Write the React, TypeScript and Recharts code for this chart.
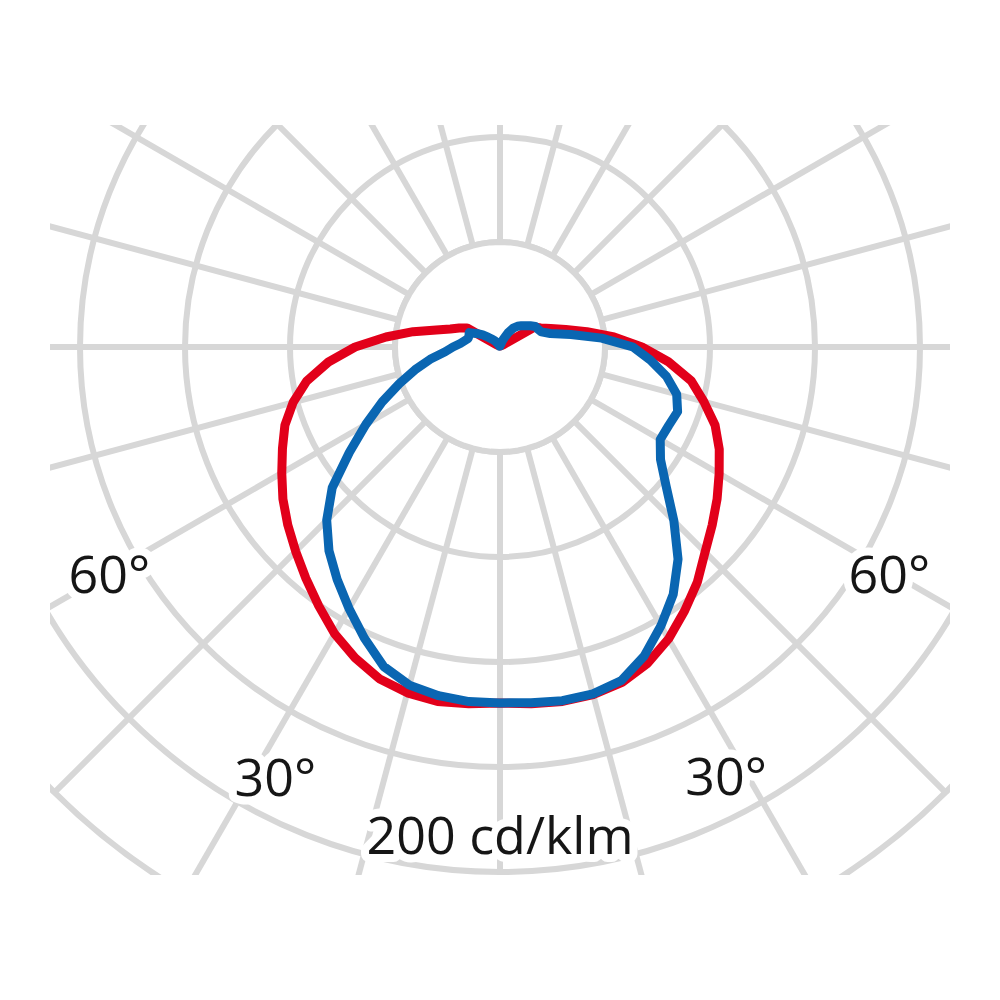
import React from 'react';
import { RadarChart, Radar, PolarGrid, PolarAngleAxis, PolarRadiusAxis } from 'recharts';

// gamma angle (deg), 0 = straight down, 0..180 on the left half, 180..360 on the right half
const GAMMA = [
  0, 5, 10, 15, 20, 25, 30, 35, 40, 45, 50, 55, 60, 65, 70, 75, 80, 85, 90,
  95, 100, 105, 110, 115, 120, 125, 130, 135, 140, 145, 150, 155, 160, 165, 170, 175, 180,
  185, 190, 195, 200, 205, 210, 215, 220, 225, 230, 235, 240, 245, 250, 255, 260, 265, 270,
  275, 280, 285, 290, 295, 300, 305, 310, 315, 320, 325, 330, 335, 340, 345, 350, 355,
];

// red curve, cd/klm
const RED = [
  169.5, 170.5, 171.4, 170.5, 168.1, 163.3, 157.6, 150.5, 143.8, 137.6, 131.9, 126.2, 120, 114.3, 109, 102, 93.5, 82, 69,
  54.5, 42, 31.4, 25.2, 21.4, 18.1, 1.9, 1, 1, 1, 1, 1, 1, 1, 1, 1, 1, 0.5,
  1, 1, 1, 1, 1, 1, 1, 1, 1, 1, 1.9, 19, 21.4, 25.7, 32.4, 42, 54.5, 67.6,
  80.5, 92.4, 100.5, 109, 115.2, 120.5, 126.2, 131.9, 138.1, 146.2, 153.3, 160.5, 166.2, 170, 171.4, 171.4, 170.5,
];

// blue curve, cd/klm
const BLUE = [
  169.5, 169.5, 168.6, 166.7, 161.9, 152.9, 143.8, 135.2, 126.7, 116.7, 104.3, 87.6, 73.8, 61.9, 51, 41.9, 33.8, 26.2, 22.4,
  19, 17.1, 15.7, 15.7, 16.2, 12.9, 10, 7.1, 5.2, 3.8, 2.4, 1.4, 0.5, 0.5, 0.5, 0.5, 0.5, 0.5,
  1, 1, 1, 2.9, 4.8, 8.1, 11, 12.9, 14.3, 15.7, 17.6, 19.5, 20, 21, 24.8, 34.3, 48.6, 63.3,
  71.9, 80.5, 87.1, 90, 88.6, 88.1, 93.3, 103.3, 117.1, 131.9, 143.8, 153.3, 162.4, 169, 171, 171, 170,
];

const RING_VALUES = [50, 100, 150, 200, 250, 300];
const GRID_ANGLES = [0, 15, 30, 45, 60, 75, 90, 105, 120, 135, 150, 165, 180, 195, 210, 225, 240, 255, 270, 285, 300, 315, 330, 345];
const HUB_VALUE = 50;
const MAX_VALUE = 300;

const LABELS = [
  { gamma: 0, text: '200 cd/klm', at: 0, r: 488 },
  { gamma: 30, text: '30°', at: 27.6, r: 485 },
  { gamma: 60, text: '60°', at: 59.8, r: 452 },
  { gamma: 300, text: '60°', at: 300.3, r: 451 },
  { gamma: 330, text: '30°', at: 332.2, r: 485 },
];

const W = 900;
const H = 750;
const CX = 450;
const CY = 222;
const OUTER = 630;
const FONT = 52;
const GRID = '#d7d7d7';

const data = GAMMA.map((g, i) => ({ gamma: g, red: RED[i], blue: BLUE[i], hub: HUB_VALUE }));

const AngleTick = (props: any) => {
  const g = Number(props?.payload?.value);
  const lab = LABELS.find((l) => l.gamma === g);
  if (!lab) return <g />;
  const a = (lab.at * Math.PI) / 180;
  const x = CX - lab.r * Math.sin(a);
  const y = CY + lab.r * Math.cos(a);
  return (
    <text
      x={x}
      y={y + FONT * 0.36}
      textAnchor="middle"
      fontFamily="'Open Sans', sans-serif"
      fontSize={FONT}
      fill="#161616"
      stroke="#ffffff"
      strokeWidth={16}
      strokeLinejoin="round"
      paintOrder="stroke"
    >
      {lab.text}
    </text>
  );
};

export default function App() {
  return (
    <div style={{ position: 'absolute', left: 0, top: 0, width: 1000, height: 1000, background: '#fff' }}>
      <div style={{ position: 'absolute', left: 50, top: 125, width: W, height: H, overflow: 'hidden' }}>
        <RadarChart
          width={W}
          height={H}
          data={data}
          cx={CX}
          cy={CY}
          innerRadius={0}
          outerRadius={OUTER}
          startAngle={-90}
          endAngle={-450}
          margin={{ top: 0, right: 0, bottom: 0, left: 0 }}
        >
          <PolarGrid
            gridType="circle"
            stroke={GRID}
            strokeWidth={6}
            polarAngles={GRID_ANGLES}
            polarRadius={RING_VALUES.map((v) => (v / MAX_VALUE) * OUTER)}
          />
          <PolarAngleAxis dataKey="gamma" type="category" tick={AngleTick} tickLine={false} axisLine={false} />
          <PolarRadiusAxis domain={[0, MAX_VALUE]} type="number" tick={false} axisLine={false} />
          <Radar dataKey="hub" stroke={GRID} strokeWidth={6} fill="#ffffff" fillOpacity={1} isAnimationActive={false} />
          <Radar dataKey="red" stroke="#e2001a" strokeWidth={9} strokeLinejoin="round" fill="none" fillOpacity={0} isAnimationActive={false} />
          <Radar dataKey="blue" stroke="#0a66b2" strokeWidth={9} strokeLinejoin="round" fill="none" fillOpacity={0} isAnimationActive={false} />
        </RadarChart>
      </div>
    </div>
  );
}
